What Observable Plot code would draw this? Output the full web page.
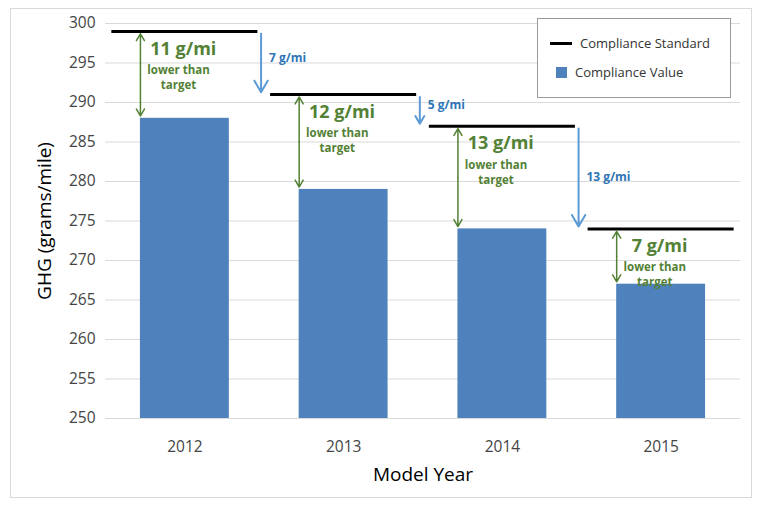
<!DOCTYPE html>
<html><head><meta charset="utf-8">
<script src="https://cdn.jsdelivr.net/npm/d3@7"></script>
<script src="https://cdn.jsdelivr.net/npm/@observablehq/plot@0.6"></script>
<style>
body{margin:0;background:#fff;font-family:"Open Sans",Arial,sans-serif}
#wrap{position:relative;width:759px;height:511px}
#frame{position:absolute;left:10px;top:8px;width:740px;height:488px;border:1px solid #d9d9d9}
#legend{position:absolute;left:537px;top:18px;width:192px;height:78px;border:1px solid #999;background:#fff;font-size:13px;color:#333}
.li{position:absolute;left:12px;display:flex;align-items:center}
</style></head><body>
<div id="wrap"><div id="frame"></div><div id="chart" style="position:absolute;left:0;top:0"></div>
<div id="legend">
<div class="li" style="top:15px"><span style="display:inline-block;width:22px;height:3px;background:#000;margin-right:8px"></span>Compliance Standard</div>
<div class="li" style="top:44px"><span style="display:inline-block;width:11px;height:11px;background:#4f81bd;margin:0 8px 0 6px"></span>Compliance Value</div>
</div></div>
<script>
const years = [2012, 2013, 2014, 2015];
const standard = [299, 291, 287, 274];
const value = [288, 279, 274, 267];
const diffLabels = ["11 g/mi", "12 g/mi", "13 g/mi", "7 g/mi"];
const stepLabels = ["7 g/mi", "5 g/mi", "13 g/mi"];
const stepLabelY = [295.6, 289.7, 280.5];
const yTicks = [250,255,260,265,270,275,280,285,290,295,300];

const data = years.map((y,i)=>({year:y, std:standard[i], val:value[i], lab:diffLabels[i]}));
const steps = stepLabels.map((l,i)=>({x:years[i]+0.48, y1:standard[i], y2:standard[i+1], lab:l, ly:stepLabelY[i]}));
const green = "#538135", blue = "#5b9bd5";

const chart = Plot.plot({
  width: 759, height: 500,
  marginLeft: 105, marginRight: 19, marginTop: 23, marginBottom: 82,
  style: {fontFamily: "'Open Sans', Arial, sans-serif", fontSize: "15px", color: "#444"},
  x: {domain: [2011.5, 2015.5], ticks: years, tickFormat: d=>String(d), tickSize: 0, label: "Model Year", labelArrow: "none", labelAnchor: "center", labelOffset: 62, tickPadding: 22},
  y: {domain: [250, 300], ticks: yTicks, tickSize: 0, label: "GHG (grams/mile)", labelArrow: "none", labelAnchor: "center", labelOffset: 68, tickPadding: 10},
  marks: [
    Plot.gridY(yTicks, {stroke: "#d9d9d9", strokeOpacity: 1}),
    Plot.rectY(data, {x1: d=>d.year-0.28, x2: d=>d.year+0.28, y1: 250, y2: "val", fill: "#4f81bd"}),
    Plot.ruleY(data, {y: "std", x1: d=>d.year-0.46, x2: d=>d.year+0.46, stroke: "#000", strokeWidth: 3}),
    Plot.arrow(data, {x1: d=>d.year-0.28, x2: d=>d.year-0.28, y1: d=>(d.std+d.val)/2, y2: d=>d.val+0.3, stroke: green, strokeWidth: 1.5, headLength: 8}),
    Plot.arrow(data, {x1: d=>d.year-0.28, x2: d=>d.year-0.28, y1: d=>(d.std+d.val)/2, y2: d=>d.std-0.3, stroke: green, strokeWidth: 1.5, headLength: 8}),
    Plot.text(data, {x: d=>d.year-0.01, y: d=>d.std-2.2, text: "lab", fill: green, fontWeight: "bold", fontSize: 18}),
    Plot.text(data, {x: d=>d.year-0.04, y: d=>d.std-4.9, text: d=>"lower than", fill: green, fontWeight: "bold", fontSize: 11.5}),
    Plot.text(data, {x: d=>d.year-0.04, y: d=>d.std-6.8, text: d=>"target", fill: green, fontWeight: "bold", fontSize: 11.5}),
    Plot.arrow(steps, {x1: "x", x2: "x", y1: d=>d.y1-0.3, y2: d=>d.y2+0.3, stroke: blue, strokeWidth: 2, headLength: 10}),
    Plot.text(steps, {x: d=>d.x+0.05, y: "ly", text: "lab", fill: "#2e75b6", fontWeight: "bold", fontSize: 12, textAnchor: "start"})
  ]
});
chart.querySelectorAll('[aria-label="x-axis tick label"] text, [aria-label="y-axis tick label"] text').forEach(t=>t.style.fontSize="15.5px");
chart.querySelectorAll('[aria-label="x-axis label"], [aria-label="y-axis label"]').forEach(g=>{g.style.fontSize="19px";g.setAttribute("fill","#000");});
document.getElementById("chart").append(chart);
</script></body></html>
